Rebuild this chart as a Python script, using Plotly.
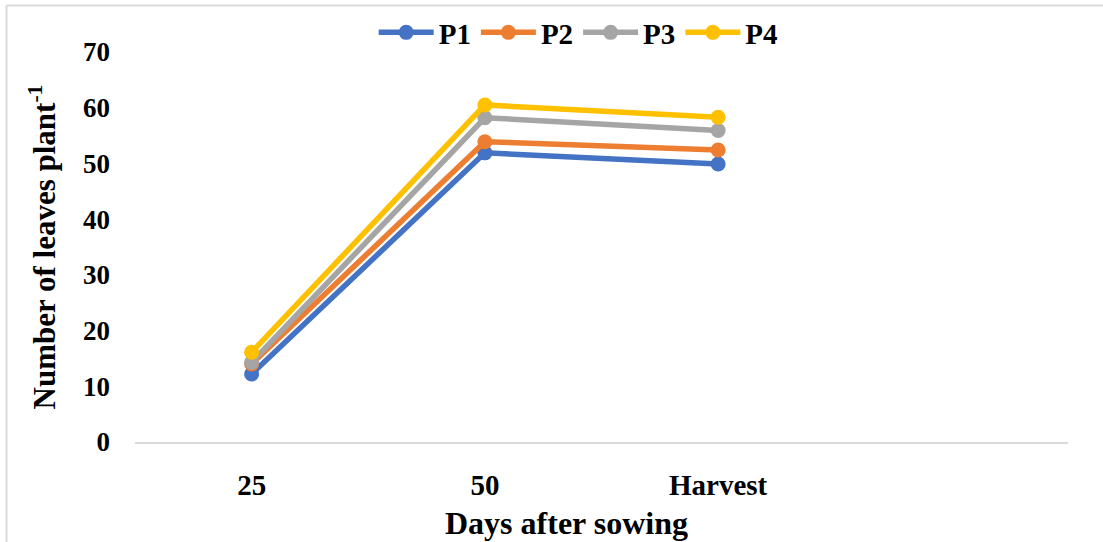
import plotly.graph_objects as go

# Sampling stages (the fourth slot is left empty on the axis)
stages = ["25", "50", "Harvest"]
axis_slots = ["25", "50", "Harvest", " "]

# Number of leaves per plant for each treatment
p1 = [12.2, 51.9, 49.9]
p2 = [14.0, 53.9, 52.4]
p3 = [14.3, 58.2, 55.9]
p4 = [16.1, 60.5, 58.3]

series = [
    ("P1", p1, "#4472C4"),
    ("P2", p2, "#ED7D31"),
    ("P3", p3, "#A5A5A5"),
    ("P4", p4, "#FFC000"),
]

FONT = "Liberation Serif"

fig = go.Figure()
for name, vals, color in series:
    fig.add_trace(go.Scatter(
        x=stages, y=vals, name="<b>" + name + "</b>", mode="lines+markers",
        line=dict(color=color, width=5.5),
        marker=dict(color=color, size=15),
    ))

fig.update_layout(
    width=1103, height=542,
    margin=dict(l=135, r=35, t=52, b=100, autoexpand=False),
    paper_bgcolor="white", plot_bgcolor="white",
    font=dict(family=FONT, size=27, color="black"),
    showlegend=True,
    legend=dict(
        orientation="h", x=0.475, xanchor="center",
        yref="container", y=0.94, yanchor="middle",
        font=dict(family=FONT, size=29, color="black"),
        itemwidth=55, tracegroupgap=0, bgcolor="rgba(0,0,0,0)",
    ),
    xaxis=dict(
        type="category", categoryorder="array", categoryarray=axis_slots,
        range=[-0.5, 3.5], showgrid=False, zeroline=False,
        showline=True, linecolor="#D9D9D9", linewidth=2,
        ticks="", ticklabelstandoff=16,
        tickprefix="<b>", ticksuffix="</b>",
        tickfont=dict(family=FONT, size=29, color="black"),
    ),
    yaxis=dict(
        range=[0, 70], dtick=10, showgrid=False, zeroline=False,
        showline=False, ticks="", ticklabelstandoff=24,
        tickprefix="<b>", ticksuffix="</b>",
        tickfont=dict(family=FONT, size=27, color="black"),
        title=dict(text="<b>Number of leaves plant<sup>-1</sup></b>", standoff=18,
                   font=dict(family=FONT, size=31, color="black")),
    ),
    annotations=[
        dict(text="<b>Days after sowing</b>", xref="paper", yref="paper",
             x=0.463, y=-0.208, xanchor="center", yanchor="middle",
             showarrow=False, font=dict(family=FONT, size=32, color="black")),
    ],
    shapes=[
        dict(type="line", xref="paper", yref="paper",
             x0=-0.1377, x1=1.1, y0=1.119, y1=1.119,
             line=dict(color="#D9D9D9", width=2)),
        dict(type="line", xref="paper", yref="paper",
             x0=-0.1377, x1=-0.1377, y0=1.119, y1=-0.3,
             line=dict(color="#D9D9D9", width=2)),
    ],
)

fig.write_html("out.html")
